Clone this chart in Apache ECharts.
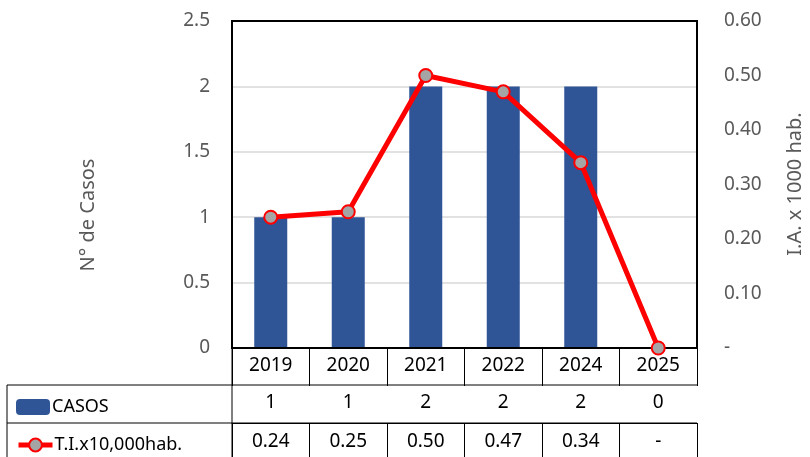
<!DOCTYPE html>
<html>
<head>
<meta charset="utf-8">
<script src="https://cdn.jsdelivr.net/npm/echarts@6/dist/echarts.min.js"></script>
<style>
  html, body { margin: 0; padding: 0; background: #fff; }
  #chart { width: 810px; height: 457px; }
</style>
</head>
<body>
<div id="chart"></div>
<script>
// datos
const years = ["2019", "2020", "2021", "2022", "2024", "2025"];
const casos = [1, 1, 2, 2, 2, 0];
const tasa = [0.24, 0.25, 0.5, 0.47, 0.34, 0];

const font = "'Noto Sans', sans-serif";
const fmtTasa = (v) => (v === 0 ? "-" : v.toFixed(2));

const chart = echarts.init(document.getElementById("chart"));

// bordes de la tabla (px)
const gLeft = 232, gRight = 697, gBottom = 348;
const tabLeft = 7, row1 = 385, row2 = 423, tabBottom = 460;

const tableLine = (x1, y1, x2, y2) => ({
  type: "line",
  shape: { x1, y1, x2, y2 },
  style: { stroke: "#000", lineWidth: 1 },
  silent: true,
});

const legendBase = {
  orient: "vertical",
  left: 11,
  itemWidth: 34,
  itemHeight: 16,
  textStyle: { fontSize: 18, color: "#000", fontFamily: font, padding: [0, 0, 0, -3] },
};

const option = {
  animation: false,
  textStyle: { fontFamily: font },
  grid: {
    left: gLeft,
    right: 810 - gRight,
    top: 21,
    bottom: 457 - gBottom,
    show: true,
    borderColor: "#000",
    borderWidth: 2,
    z: 3,
  },
  legend: [
    Object.assign({}, legendBase, { top: 393, data: ["CASOS"] }),
    Object.assign({}, legendBase, {
      top: 431,
      data: ["T.I.x10,000hab."],
      lineStyle: { width: 5, color: "#FF0000" },
    }),
  ],
  xAxis: [
    {
      type: "category",
      data: years,
      axisLine: { show: true, lineStyle: { color: "#000", width: 1 } },
      axisTick: { show: true, length: 37, lineStyle: { color: "#000" } },
      axisLabel: { color: "#000", fontSize: 19, margin: 8 },
    },
    {
      type: "category",
      data: casos.map(String),
      position: "bottom",
      offset: row1 - gBottom,
      axisLine: { show: true, lineStyle: { color: "#000", width: 1 } },
      axisTick: { show: true, length: row2 - row1, lineStyle: { color: "#000" } },
      axisLabel: { color: "#000", fontSize: 19, margin: 8 },
    },
    {
      type: "category",
      data: tasa.map(fmtTasa),
      position: "bottom",
      offset: row2 - gBottom,
      axisLine: { show: true, lineStyle: { color: "#000", width: 1 } },
      axisTick: { show: true, length: 40, lineStyle: { color: "#000" } },
      axisLabel: { color: "#000", fontSize: 19, margin: 9 },
    },
  ],
  yAxis: [
    {
      type: "value",
      min: 0,
      max: 2.5,
      interval: 0.5,
      axisLine: { show: false },
      axisTick: { show: false },
      splitLine: { lineStyle: { color: "#d9d9d9", width: 1.5 } },
      axisLabel: { color: "#595959", fontSize: 19, margin: 22 },
    },
    {
      type: "value",
      min: 0,
      max: 0.6,
      interval: 0.1,
      position: "right",
      axisLine: { show: false },
      axisTick: { show: false },
      splitLine: { show: false },
      axisLabel: { color: "#595959", fontSize: 19, margin: 27, formatter: fmtTasa },
    },
  ],
  graphic: [
    tableLine(tabLeft, row1, gRight, row1),
    tableLine(tabLeft, row2, gRight, row2),
    tableLine(tabLeft, row1, tabLeft, tabBottom),
    tableLine(gLeft, gBottom, gLeft, tabBottom),
    {
      type: "text",
      x: 88,
      y: 215,
      rotation: Math.PI / 2,
      style: {
        text: "N° de Casos",
        fill: "#595959",
        font: "20px " + font,
        align: "center",
        verticalAlign: "middle",
      },
    },
    {
      type: "text",
      x: 795,
      y: 184,
      rotation: Math.PI / 2,
      style: {
        text: "I.A. x 1000 hab.",
        fill: "#595959",
        font: "20px " + font,
        align: "center",
        verticalAlign: "middle",
      },
    },
  ],
  series: [
    {
      name: "CASOS",
      type: "bar",
      xAxisIndex: 0,
      yAxisIndex: 0,
      barWidth: 33,
      itemStyle: { color: "#2F5597" },
      data: casos,
    },
    {
      name: "T.I.x10,000hab.",
      type: "line",
      xAxisIndex: 0,
      yAxisIndex: 1,
      symbol: "circle",
      symbolSize: 13,
      lineStyle: { color: "#FF0000", width: 5 },
      itemStyle: { color: "#A5A5A5", borderColor: "#FF0000", borderWidth: 2 },
      z: 5,
      data: tasa,
    },
  ],
};

chart.setOption(option);
</script>
</body>
</html>
